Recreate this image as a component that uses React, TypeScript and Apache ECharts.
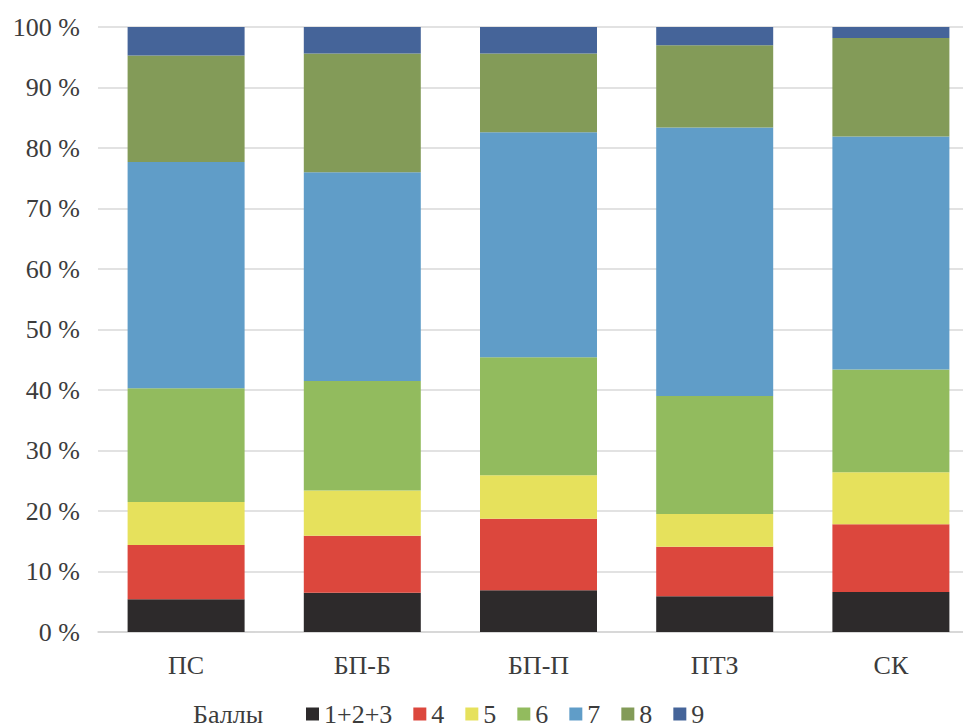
import React, { useEffect, useRef } from "react";
import * as echarts from "echarts";

// Groups along the x axis
const categories = ["ПС", "БП-Б", "БП-П", "ПТЗ", "СК"];

// Score groups (stack order, bottom to top)
const scoreNames = ["1+2+3", "4", "5", "6", "7", "8", "9"];

// Share of each score group per category, %
const score123 = [5.4, 6.5, 6.9, 5.9, 6.6];
const score4 = [9.0, 9.4, 11.8, 8.2, 11.2];
const score5 = [7.1, 7.5, 7.2, 5.4, 8.6];
const score6 = [18.8, 18.1, 19.5, 19.5, 17.0];
const score7 = [37.4, 34.5, 37.2, 44.4, 38.5];
const score8 = [17.6, 19.6, 13.0, 13.6, 16.3];
const score9 = [4.7, 4.4, 4.4, 3.0, 1.8];

const seriesValues = [score123, score4, score5, score6, score7, score8, score9];

const colors = [
  "#2d2a2b",
  "#dc473d",
  "#e6e15c",
  "#92bb5e",
  "#609dc8",
  "#839b58",
  "#456499",
];

const legendTitle = "Баллы";

const FONT = "Liberation Serif";
const TEXT_COLOR = "#3c3c3c";

export default function App() {
  const ref = useRef<HTMLDivElement>(null);

  useEffect(() => {
    if (!ref.current) return;
    const chart = echarts.init(ref.current, undefined, { renderer: "svg" });

    chart.setOption({
      animation: false,
      backgroundColor: "#ffffff",
      textStyle: { fontFamily: FONT },
      grid: {
        left: 98,
        top: 27,
        width: 881,
        height: 605,
        outerBoundsMode: "none",
        containLabel: false,
      },
      xAxis: {
        type: "category",
        data: categories,
        axisLine: { show: true, lineStyle: { color: "#d4d4d4", width: 1.5 } },
        axisTick: { show: false },
        axisLabel: {
          color: TEXT_COLOR,
          fontSize: 26,
          fontFamily: FONT,
          margin: 20,
        },
      },
      yAxis: {
        type: "value",
        min: 0,
        max: 100,
        interval: 10,
        axisLine: { show: false },
        axisTick: { show: false },
        splitLine: { lineStyle: { color: "#d9d9d9", width: 1.5 } },
        axisLabel: {
          color: TEXT_COLOR,
          fontSize: 26,
          fontFamily: FONT,
          margin: 18,
          formatter: (v: number) => `${v} %`,
        },
      },
      legend: {
        left: 306,
        top: 701,
        itemWidth: 13,
        itemHeight: 13,
        itemGap: 21,
        padding: 0,
        icon: "rect",
        textStyle: {
          color: TEXT_COLOR,
          fontSize: 26,
          fontFamily: FONT,
          lineHeight: 26,
        },
        data: scoreNames,
      },
      graphic: [
        {
          type: "text",
          left: 193,
          top: 701,
          style: {
            text: legendTitle,
            fill: TEXT_COLOR,
            fontSize: 26,
            fontFamily: FONT,
            lineHeight: 26,
          },
        },
      ],
      series: scoreNames.map((name, i) => ({
        name,
        type: "bar",
        stack: "total",
        barWidth: 117,
        data: seriesValues[i],
        itemStyle: { color: colors[i] },
      })),
    });

    return () => chart.dispose();
  }, []);

  return (
    <div
      ref={ref}
      style={{ position: "fixed", left: 0, top: 0, width: 963, height: 728 }}
    />
  );
}
